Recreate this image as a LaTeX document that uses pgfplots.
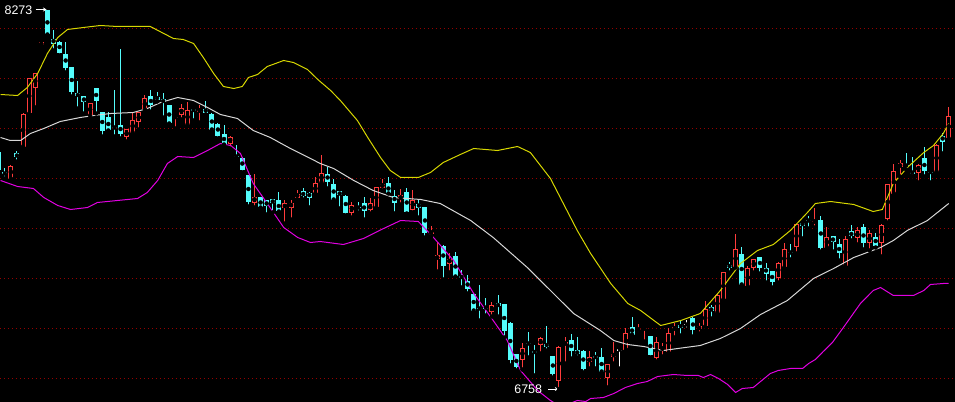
\documentclass[border=0pt]{standalone}
\usepackage{fontspec}
\usepackage{pgfplots}
\pgfplotsset{compat=1.18}
\usepackage{pgfplotstable}
\usetikzlibrary{arrows.meta}
\newfontfamily\labfont{Liberation Sans}
\definecolor{cup}{RGB}{255,60,60}
\definecolor{cdn}{RGB}{84,252,252}
\definecolor{byel}{RGB}{215,215,0}
\definecolor{bwht}{RGB}{215,215,215}
\definecolor{bmag}{RGB}{225,0,225}
\definecolor{gridred}{RGB}{150,0,0}

% candles: index, open, high, low, close
\pgfplotstableread{
i o h l c
2 7600 7652 7600 7652
4 7728 7860 7728 7860
5 7860 8000 7860 8000
6 7960 8020 7884 8020
7 8132 8144 8132 8144
15 7852 7900 7852 7900
21 7764 7796 7748 7796
22 7784 7864 7784 7836
23 7824 7864 7796 7864
24 7876 7932 7876 7920
29 7844 7848 7800 7848
30 7856 7896 7836 7884
31 7816 7904 7816 7876
33 7868 7892 7824 7876
38 7740 7768 7720 7768
42 7504 7616 7484 7528
47 7480 7512 7420 7500
48 7484 7512 7436 7504
49 7524 7552 7516 7540
52 7540 7604 7540 7580
53 7584 7692 7584 7624
58 7464 7504 7444 7496
61 7472 7520 7460 7500
62 7484 7564 7484 7564
63 7564 7596 7552 7580
66 7516 7556 7496 7532
68 7476 7552 7464 7516
71 7380 7408 7368 7388
72 7276 7344 7228 7292
74 7260 7300 7224 7280
81 7064 7104 7048 7092
86 6876 6940 6836 6924
89 6932 6964 6900 6960
92 6792 6928 6758 6928
93 6936 6964 6860 6944
97 6864 6908 6840 6884
100 6800 6856 6764 6856
101 6888 6944 6860 6900
103 6916 7000 6916 6984
105 6994 7016 6980 6998
106 6998 7004 6948 7002
108 6880 6964 6868 6944
109 6918 6940 6888 6922
110 6904 7000 6904 6980
111 6996 7020 6964 7004
115 6996 7020 6980 7008
116 7008 7108 7008 7076
118 7064 7140 7064 7136
119 7116 7224 7116 7224
121 7244 7376 7244 7316
123 7168 7248 7168 7240
124 7240 7276 7224 7276
128 7204 7264 7184 7264
129 7244 7340 7244 7316
131 7324 7416 7300 7416
134 7426 7480 7404 7430
136 7324 7404 7324 7368
139 7252 7368 7252 7360
141 7360 7404 7336 7392
143 7340 7392 7312 7380
145 7340 7416 7288 7412
146 7436 7576 7424 7576
147 7540 7656 7540 7632
148 7644 7672 7608 7660
151 7624 7656 7584 7656
154 7628 7736 7628 7736
156 7764 7884 7760 7852
}\candUp

\pgfplotstableread{
i o h l c
0 7704 7712 7600 7632
1 7624 7640 7600 7616
3 7700 7708 7668 7684
8 8273 8273 8176 8176
9 8160 8192 8112 8140
10 8148 8148 8092 8104
11 8100 8144 8024 8044
12 8044 8044 7928 7944
13 7940 7988 7880 7928
14 7928 7928 7860 7904
16 7960 7960 7860 7908
17 7864 7864 7768 7788
18 7844 7864 7792 7792
19 7806 7952 7768 7802
20 7816 8116 7760 7780
25 7928 7952 7868 7892
26 7928 7944 7908 7916
27 7916 7940 7844 7904
28 7892 7892 7820 7820
32 7876 7876 7832 7872
34 7880 7908 7856 7864
35 7860 7860 7796 7796
36 7820 7820 7760 7772
37 7780 7812 7736 7736
39 7690 7732 7676 7686
40 7684 7684 7624 7636
41 7612 7612 7488 7504
43 7524 7524 7484 7484
44 7512 7512 7456 7488
45 7516 7516 7464 7500
46 7512 7544 7468 7468
50 7548 7560 7516 7528
51 7544 7544 7484 7524
54 7620 7644 7560 7588
55 7580 7596 7516 7516
56 7548 7548 7480 7532
57 7532 7532 7452 7464
59 7486 7504 7464 7482
60 7500 7524 7436 7468
64 7580 7604 7540 7540
65 7532 7552 7460 7504
67 7544 7560 7460 7464
69 7500 7516 7444 7484
70 7484 7484 7364 7380
73 7332 7332 7196 7252
75 7288 7304 7208 7208
76 7208 7232 7164 7204
77 7192 7212 7140 7160
78 7140 7140 7072 7072
79 7082 7172 7032 7078
80 7088 7120 7052 7080
82 7100 7132 7048 7088
83 7096 7096 6964 6988
84 7024 7024 6852 6876
85 6896 6896 6832 6844
87 6942 6984 6884 6938
88 6908 6932 6812 6904
90 6940 7008 6912 6928
91 6888 6888 6804 6816
94 6952 6976 6880 6908
95 6912 6964 6884 6896
96 6912 6912 6824 6840
98 6888 6904 6840 6884
99 6888 6920 6828 6828
104 7008 7044 6976 6976
107 6968 6968 6884 6892
112 7016 7028 6972 7004
114 7040 7044 6968 6992
117 7084 7092 7040 7068
120 7256 7264 7224 7244
122 7300 7324 7176 7176
125 7284 7284 7220 7240
126 7244 7260 7184 7220
127 7228 7228 7164 7184
130 7306 7336 7276 7302
132 7424 7424 7360 7412
133 7434 7448 7400 7430
135 7436 7448 7308 7324
137 7368 7368 7308 7344
138 7336 7356 7272 7300
140 7388 7412 7352 7368
142 7404 7416 7316 7340
144 7368 7380 7324 7332
149 7654 7700 7636 7650
150 7628 7684 7608 7620
152 7680 7724 7608 7628
153 7628 7628 7584 7624
155 7772 7780 7700 7748
}\candDn

\pgfplotstableread{
i o h l c
102 6916 6920 6840 6916
113 7016 7032 6996 7016
}\candDj

% Bollinger bands
\pgfplotstableread{
x y
0.3 7936
3.1 7932
4.7 7964
6.4 8020
8.0 8100
9.7 8164
11.3 8196
13.9 8204
16.7 8212
19.5 8208
24.9 8208
27.1 8180
28.7 8160
30.3 8156
32.0 8140
33.6 8084
35.3 8020
36.9 7968
38.6 7960
40.0 7968
41.0 8004
42.5 8016
44.1 8048
46.8 8072
48.4 8064
50.7 8036
52.4 7996
54.5 7952
56.1 7912
58.9 7832
60.6 7764
62.7 7684
64.3 7632
66.0 7604
68.9 7604
70.9 7624
73.0 7664
75.8 7696
78.0 7720
81.9 7712
85.2 7728
87.3 7704
90.6 7600
95.0 7392
97.2 7300
100.5 7180
103.3 7100
105.4 7072
108.7 7012
112.0 7032
115.2 7060
118.5 7152
121.8 7260
124.6 7312
127.2 7336
130.0 7392
132.8 7464
134.1 7500
136.6 7508
140.4 7496
143.6 7468
145.1 7476
146.9 7580
149.2 7644
151.9 7704
153.5 7732
155.1 7780
156.0 7820
}\bandU

\pgfplotstableread{
x y
0.3 7764
1.9 7752
3.6 7752
5.2 7780
7.4 7800
10.1 7828
13.4 7844
15.6 7852
18.4 7860
22.1 7864
24.4 7880
26.6 7904
29.4 7924
32.0 7912
34.3 7884
36.4 7856
39.2 7840
41.8 7792
44.6 7764
47.9 7720
51.2 7680
52.8 7660
55.0 7640
58.3 7592
61.5 7552
64.8 7524
69.3 7516
72.5 7500
77.5 7432
81.2 7364
86.8 7244
91.1 7140
94.4 7060
98.8 6992
101.0 6952
103.3 6936
105.9 6928
109.2 6912
111.5 6920
115.2 6932
118.5 6960
121.8 7000
125.1 7056
129.5 7112
133.8 7200
137.1 7240
140.4 7284
144.8 7324
146.9 7352
149.2 7392
152.5 7432
156.0 7500
}\bandM

\pgfplotstableread{
x y
0.3 7592
3.1 7568
5.7 7560
7.4 7524
9.7 7492
11.8 7476
14.6 7484
16.2 7504
19.5 7512
22.8 7520
24.4 7544
26.1 7592
27.7 7660
29.4 7688
32.0 7684
34.3 7712
36.4 7740
38.1 7732
39.7 7700
41.8 7580
44.1 7500
46.8 7404
49.1 7364
51.2 7344
52.8 7348
56.6 7336
59.9 7360
63.2 7400
66.0 7432
68.9 7428
71.4 7364
74.7 7272
78.0 7140
81.2 7032
83.5 6952
85.7 6832
88.5 6752
90.6 6712
92.2 6688
94.2 6704
95.0 6712
96.4 6708
97.2 6720
99.3 6724
101.0 6740
102.9 6764
104.9 6780
106.5 6788
108.2 6808
110.8 6816
113.1 6812
114.9 6812
115.7 6804
116.9 6816
118.2 6800
119.7 6776
121.0 6744
122.1 6760
123.9 6764
125.1 6788
126.7 6820
128.0 6832
130.0 6840
132.0 6840
133.0 6860
134.1 6876
135.4 6908
136.9 6944
138.7 7004
141.5 7100
143.6 7152
144.8 7164
146.9 7132
150.2 7132
151.9 7152
153.0 7176
155.1 7180
156.0 7180
}\bandL

\pgfplotsset{
  wick/.style={only marks, mark=none, forget plot,
    error bars/.cd, y dir=plus, y explicit, error mark=none,
    error bar style={draw=#1, line width=1bp}},
  body/.style 2 args={only marks, mark=none, forget plot,
    error bars/.cd, y dir=both, y explicit, error mark=none,
    error bar style={draw=#1, line width=#2}},
}

\begin{document}
\begin{tikzpicture}
\useasboundingbox (0,0) rectangle (955bp,402bp);
\fill[black] (0,0) rectangle (955bp,402bp);
\begin{axis}[
  at={(0,0)}, anchor=south west,
  width=955bp, height=402bp, scale only axis,
  xmin=0.2135, xmax=157.03, ymin=6706, ymax=8314,
  axis line style={draw=none},
  xtick=\empty,
  ytick={6800,7000,...,8200}, yticklabels={}, ytick style={draw=none},
  ymajorgrids=true,
  grid style={color=gridred, line width=1bp, dash pattern=on 1bp off 3bp},
  clip=true,
]
% down candles (cyan, filled)
\addplot[wick=cdn] table[x=i, y=l, y error plus expr=\thisrow{h}-\thisrow{l}] {\candDn};
\addplot[body={cdn}{5bp}] table[x=i, y expr=(\thisrow{o}+\thisrow{c})/2, y error expr={max(abs(\thisrow{c}-\thisrow{o})/2,2)}] {\candDn};
% up candles (red, hollow)
\addplot[wick=cup] table[x=i, y=l, y error plus expr=\thisrow{h}-\thisrow{l}] {\candUp};
\addplot[body={cup}{5bp}] table[x=i, y expr=(\thisrow{o}+\thisrow{c})/2, y error expr={max(abs(\thisrow{c}-\thisrow{o})/2,2)}] {\candUp};
\addplot[body={black}{3bp}] table[x=i, y expr=(\thisrow{o}+\thisrow{c})/2, y error expr={max(abs(\thisrow{c}-\thisrow{o})/2-4,0)}] {\candUp};
% doji candles (white)
\addplot[wick=white] table[x=i, y=l, y error plus expr=\thisrow{h}-\thisrow{l}] {\candDj};
\addplot[body={white}{5bp}] table[x=i, y expr=(\thisrow{o}+\thisrow{c})/2, y error expr={max(abs(\thisrow{c}-\thisrow{o})/2,2)}] {\candDj};
% bands
\addplot[byel, line width=1bp, mark=none] table[x=x, y=y] {\bandU};
\addplot[bwht, line width=1bp, mark=none] table[x=x, y=y] {\bandM};
\addplot[bmag, line width=1bp, mark=none] table[x=x, y=y] {\bandL};
% extreme labels
\node[anchor=east, text=white, inner sep=0pt, font=\labfont\fontsize{12.5}{12.5}\selectfont] at (axis cs:5.55,8274) {8273};
\draw[white, line width=0.8bp, -{Stealth[length=3.5bp,width=4bp]}] (axis cs:6.05,8276) -- (axis cs:7.85,8276);
\node[anchor=east, text=white, inner sep=0pt, font=\labfont\fontsize{12.5}{12.5}\selectfont] at (axis cs:89.25,6758) {6758};
\draw[white, line width=0.8bp, -{Stealth[length=3.5bp,width=4bp]}] (axis cs:90.2,6758) -- (axis cs:91.9,6758);
\end{axis}
\end{tikzpicture}
\end{document}
